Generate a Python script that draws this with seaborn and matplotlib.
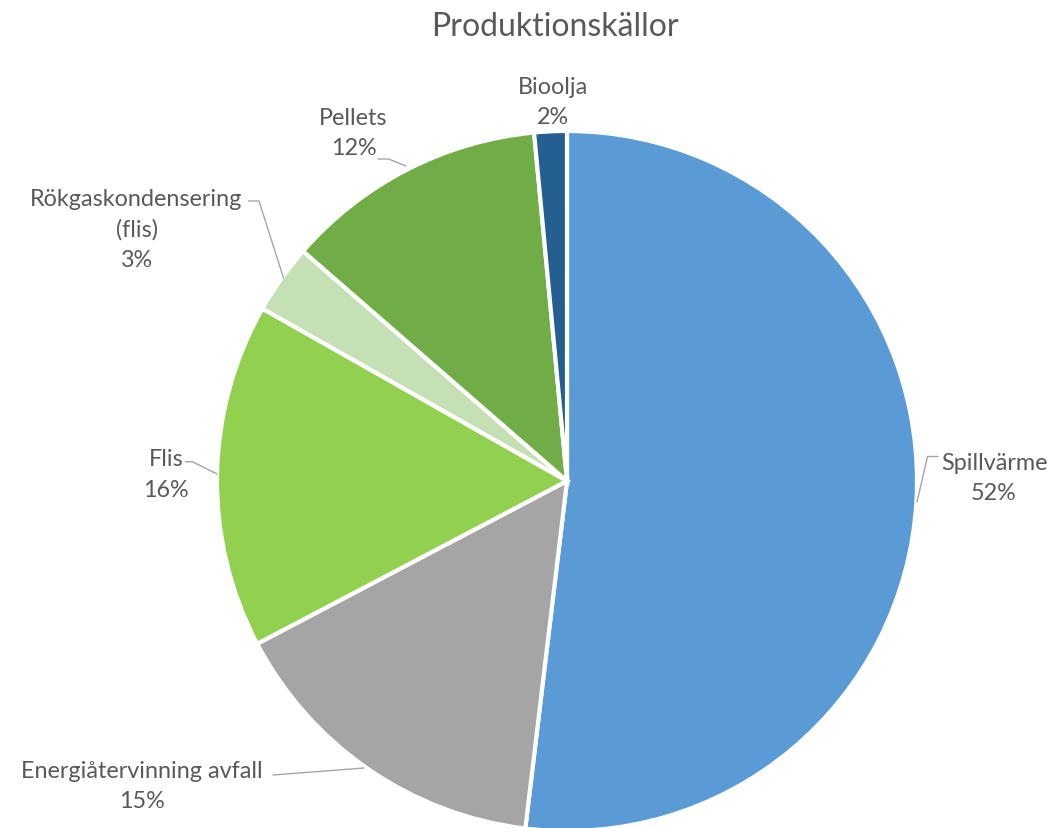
import matplotlib
matplotlib.use("Agg")
import matplotlib.pyplot as plt
import seaborn as sns

# Data (share of production, %)
sources = ["Spillvärme", "Energiåtervinning avfall", "Flis",
           "Rökgaskondensering\n(flis)", "Pellets", "Bioolja"]
shares = [51.9, 15.4, 15.9, 3.2, 12.1, 1.5]
pct_labels = ["52%", "15%", "16%", "3%", "12%", "2%"]

colors = ["#5B9BD5", "#A5A5A5", "#92D050", "#C5E0B4", "#70AD47", "#255E91"]

# label layout (pie radius = 1): text centre, leader elbow points
label_pos = [(1.22, 0.01), (-1.215, -0.87), (-1.145, 0.02),
             (-1.23, 0.72), (-0.61, 0.995), (-0.04, 1.085)]
leaders = [
    [(1.06, 0.07), (1.03, 0.07), (1.0, -0.06)],
    [(-0.84, -0.84), (-0.58, -0.82)],
    [(-1.09, 0.055), (-1.07, 0.055), (-1.0, 0.02)],
    [(-0.91, 0.80), (-0.88, 0.80), (-0.81, 0.58)],
    [(-0.54, 0.92), (-0.51, 0.92), (-0.46, 0.90)],
    None,
]

sns.set_theme(style="white")
plt.rcParams["font.family"] = ["Lato", "DejaVu Sans"]
text_col = "#595959"

fig = plt.figure(figsize=(10.61, 8.29), dpi=100)
ax = fig.add_axes([217 / 1061, -3 / 829, 700 / 1061, 700 / 829])

ax.pie(shares, colors=colors, startangle=90, counterclock=False,
       radius=1.0, wedgeprops=dict(edgecolor="white", linewidth=3))
ax.set_xlim(-1, 1)
ax.set_ylim(-1, 1)
ax.set_aspect("equal")
ax.axis("off")

for name, pct, (x, y), pts in zip(sources, pct_labels, label_pos, leaders):
    ax.text(x, y, f"{name}\n{pct}", ha="center", va="center", fontsize=16.8,
            color=text_col, linespacing=1.55, clip_on=False)
    if pts:
        xs, ys = zip(*pts)
        ax.plot(xs, ys, color="#A6A6A6", lw=1, clip_on=False)

fig.text(555 / 1061, 1 - 27 / 829, "Produktionskällor", ha="center", va="center",
         fontsize=23, color=text_col)

fig.savefig("out.png", dpi=100)
